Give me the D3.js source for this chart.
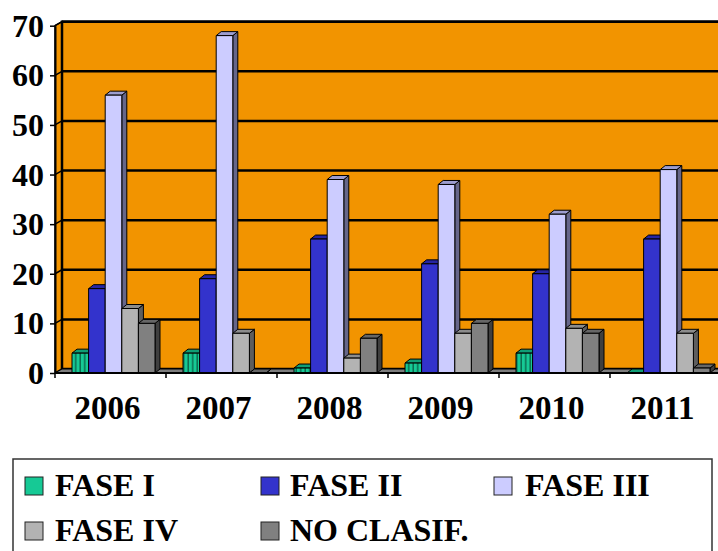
<!DOCTYPE html>
<html>
<head>
<meta charset="utf-8">
<script src="https://cdn.jsdelivr.net/npm/d3@7"></script>
<style>
  body { margin: 0; background: #fff; }
  svg { display: block; }
  text { font-family: "Liberation Serif", "Times New Roman", serif; font-weight: bold; fill: #000; }
</style>
</head>
<body>
<svg id="chart" width="718" height="551"></svg>
<script>
// Yearly case counts by phase
const years = ["2006", "2007", "2008", "2009", "2010", "2011"];
const seriesNames = ["FASE I", "FASE II", "FASE III", "FASE IV", "NO CLASIF."];
const faseI    = [4, 4, 1, 2, 4, 0];
const faseII   = [17, 19, 27, 22, 20, 27];
const faseIII  = [56, 68, 39, 38, 32, 41];
const faseIV   = [13, 8, 3, 8, 9, 8];
const noClasif = [10, 0, 7, 10, 8, 1];
const yTicks   = [0, 10, 20, 30, 40, 50, 60, 70];

const seriesValues = [faseI, faseII, faseIII, faseIV, noClasif];

// face colours: front, top, side
const palette = [
  { front: "url(#hatchI)", swatch: "#16c995", top: "#0f9e76", side: "#086a4e" },
  { front: "#3333cc", swatch: "#3333cc", top: "#2626a3", side: "#1a1a70" },
  { front: "#ccccff", swatch: "#ccccff", top: "#9d9dcf", side: "#66668a" },
  { front: "#b3b3b3", swatch: "#b3b3b3", top: "#8c8c8c", side: "#5e5e5e" },
  { front: "#808080", swatch: "#808080", top: "#666666", side: "#3f3f3f" }
];

const svg = d3.select("#chart");
const defs = svg.append("defs");
const hatch = defs.append("pattern")
  .attr("id", "hatchI").attr("patternUnits", "userSpaceOnUse")
  .attr("width", 4.5).attr("height", 10);
hatch.append("rect").attr("width", 4.5).attr("height", 10).attr("fill", "#16c995");
hatch.append("rect").attr("x", 3).attr("width", 1.5).attr("height", 10).attr("fill", "#0b6b50");

const left = 55, zeroY = 373;
const WX = 7, WY = -4;   // wall depth offset
const BX = 5, BY = -4;   // bar depth offset

const x = d3.scaleBand().domain(years).range([left, left + 6 * 111]);
const y = d3.scaleLinear().domain([0, 70]).range([zeroY, 25.7]);
const inner = d3.scaleBand().domain(seriesNames).range([0, 83]);
const barOffset = 17;

const wallRight = 740;
const wallTop = y(70) + WY;

// side wall (left plane)
svg.append("path")
  .attr("d", `M${left},${zeroY} L${left},${y(70)} L${left + WX},${wallTop} L${left + WX},${zeroY + WY} Z`)
  .attr("fill", "#f29400").attr("stroke", "#000").attr("stroke-width", 1.5);

// back wall
svg.append("rect")
  .attr("x", left + WX).attr("y", wallTop)
  .attr("width", wallRight - left - WX).attr("height", zeroY + WY - wallTop)
  .attr("fill", "#f29400").attr("stroke", "#000").attr("stroke-width", 2.5);

// gridlines on back wall and side wall
const grid = svg.append("g").attr("stroke", "#000").attr("fill", "none");
yTicks.filter(v => v > 0).forEach(v => {
  grid.append("line")
    .attr("x1", left + WX).attr("x2", wallRight)
    .attr("y1", y(v) + WY).attr("y2", y(v) + WY)
    .attr("stroke-width", 2.5);
  grid.append("line")
    .attr("x1", left).attr("y1", y(v))
    .attr("x2", left + WX).attr("y2", y(v) + WY)
    .attr("stroke-width", 1.5);
});

// floor
svg.append("path")
  .attr("d", `M${left},${zeroY} L${left + WX},${zeroY + WY} L${wallRight},${zeroY + WY} L${wallRight},${zeroY} Z`)
  .attr("fill", "#7d7d7d").attr("stroke", "#000").attr("stroke-width", 1);

// bars
const bars = svg.append("g").attr("stroke", "#000").attr("stroke-width", 1).attr("stroke-linejoin", "round");
years.forEach((yr, j) => {
  seriesNames.forEach((name, i) => {
    const v = seriesValues[i][j];
    const x0 = x(yr) + barOffset + inner(name);
    const w = inner.bandwidth();
    const yt = y(v);
    const c = palette[i];
    // side face
    bars.append("path")
      .attr("d", `M${x0 + w},${yt} L${x0 + w + BX},${yt + BY} L${x0 + w + BX},${zeroY + BY} L${x0 + w},${zeroY} Z`)
      .attr("fill", c.side);
    // top face
    bars.append("path")
      .attr("d", `M${x0},${yt} L${x0 + BX},${yt + BY} L${x0 + w + BX},${yt + BY} L${x0 + w},${yt} Z`)
      .attr("fill", c.top);
    // front face
    if (v > 0) {
      bars.append("rect")
        .attr("x", x0).attr("y", yt).attr("width", w).attr("height", zeroY - yt)
        .attr("fill", c.front);
    }
  });
});

// front baseline
svg.append("line")
  .attr("x1", left).attr("x2", wallRight).attr("y1", zeroY).attr("y2", zeroY)
  .attr("stroke", "#000").attr("stroke-width", 2);

// value axis
const yAxis = svg.append("g")
  .attr("transform", `translate(${left},0)`)
  .call(d3.axisLeft(y).tickValues(yTicks).tickSize(5).tickSizeOuter(0).tickPadding(6));
yAxis.select(".domain").attr("stroke", "#000").attr("stroke-width", 2);
yAxis.selectAll(".tick line").attr("stroke", "#000").attr("stroke-width", 1.5);
yAxis.selectAll(".tick text")
  .attr("font-size", 32).attr("font-family", "Liberation Serif, serif")
  .attr("font-weight", "bold").attr("fill", "#000").attr("dy", "0.33em");

// category boundary ticks
const catTicks = svg.append("g").attr("stroke", "#000").attr("stroke-width", 1.5);
years.forEach(yr => {
  catTicks.append("line")
    .attr("x1", x(yr)).attr("x2", x(yr))
    .attr("y1", zeroY).attr("y2", zeroY + 5);
});

// category labels
svg.append("g").selectAll("text").data(years).join("text")
  .attr("x", d => x(d) + x.bandwidth() / 2 - 3)
  .attr("y", 419)
  .attr("text-anchor", "middle")
  .attr("font-size", 33)
  .text(d => d);

// legend
svg.append("rect")
  .attr("x", 13).attr("y", 459).attr("width", 699).attr("height", 120)
  .attr("fill", "#fff").attr("stroke", "#333").attr("stroke-width", 1.5);

const legendPos = [
  { sx: 25, tx: 55, row: 0 },
  { sx: 261, tx: 290, row: 0 },
  { sx: 494, tx: 525, row: 0 },
  { sx: 25, tx: 55, row: 1 },
  { sx: 261, tx: 290, row: 1 }
];
const legend = svg.append("g");
seriesNames.forEach((name, i) => {
  const p = legendPos[i];
  const sy = p.row === 0 ? 477 : 522;
  legend.append("rect")
    .attr("x", p.sx).attr("y", sy).attr("width", 18).attr("height", 18)
    .attr("fill", palette[i].swatch).attr("stroke", "#222").attr("stroke-width", 1);
  legend.append("text")
    .attr("x", p.tx).attr("y", sy + 19)
    .attr("font-size", 32)
    .text(name);
});
</script>
</body>
</html>
